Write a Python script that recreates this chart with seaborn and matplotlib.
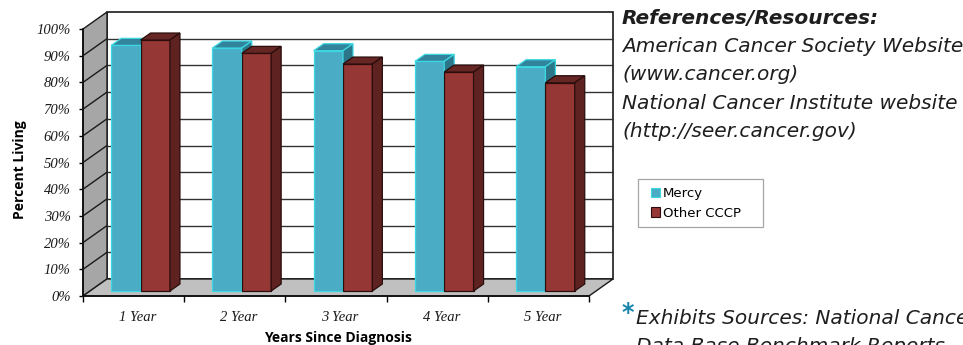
import matplotlib
matplotlib.use("Agg")
import matplotlib.pyplot as plt
import seaborn as sns
import pandas as pd
from matplotlib.colors import to_rgba
from matplotlib.patches import Polygon, Rectangle, Patch
from matplotlib.lines import Line2D

# ---- data -------------------------------------------------------------
years = ["1 Year", "2 Year", "3 Year", "4 Year", "5 Year"]
mercy = [92, 91, 90, 86, 84]
other_cccp = [94, 89, 85, 82, 78]
series = ["Mercy", "Other CCCP"]
y_ticks = list(range(0, 101, 10))
y_tick_labels = [f"{v}%" for v in y_ticks]

df = pd.DataFrame({
    "Years Since Diagnosis": years * 2,
    "Percent Living": mercy + other_cccp,
    "Group": [series[0]] * len(years) + [series[1]] * len(years),
})

# ---- styling ----------------------------------------------------------
sns.set_theme(style="white", rc={
    "text.color": "black", "axes.labelcolor": "black",
    "xtick.color": "black", "ytick.color": "black",
})

front = {"Mercy": "#4BACC6", "Other CCCP": "#953735"}
top = {"Mercy": "#31849B", "Other CCCP": "#652624"}
side = {"Mercy": "#2B7689", "Other CCCP": "#5E2321"}
edge = {"Mercy": "#3CD8E2", "Other CCCP": "#2A0D0C"}
text_col = "#1E1E1E"

W, H = 963, 345
fig = plt.figure(figsize=(W / 100, H / 100), dpi=100)
fig.patch.set_facecolor("white")

# pixel scale of the plot: one category and one percent
ux = 101.2
uy = 2.67


def px(dx, dy):
    return dx / ux, dy / uy


fx, fy = px(-7, -5)    # front plane (labelled axes) relative to the bar plane
bx, by = px(17, 12)    # back wall plane
ddx, ddy = px(10, 7)   # bar depth
x_lo, x_hi = -0.5, len(years) - 0.5

# axes: its lower-left corner is the front corner of the floor
x0_lim, x1_lim = x_lo + fx, x_hi
y0_lim, y1_lim = fy, 100
L, T = 83, 24
AW = (x1_lim - x0_lim) * ux
AH = (y1_lim - y0_lim) * uy
ax = fig.add_axes([L / W, 1 - (T + AH) / H, AW / W, AH / H])
ax.set_facecolor("none")

sns.barplot(data=df, x="Years Since Diagnosis", y="Percent Living",
            hue="Group", palette=front, width=0.58, saturation=1,
            legend=False, ax=ax)
bars = list(ax.patches)

# back wall with gridlines
ax.add_patch(Rectangle((x_lo + bx, by), x_hi - x_lo, 100, facecolor="white",
                       edgecolor="#1A1A1A", lw=1.2, zorder=0.2, clip_on=False))
for v in y_ticks[1:-1]:
    ax.add_line(Line2D([x_lo + bx, x_hi + bx], [v + by, v + by], color="#333333",
                       lw=1.0, zorder=0.3, clip_on=False))

# left side wall with receding gridlines
ax.add_patch(Polygon([(x_lo + fx, fy), (x_lo + fx, 100 + fy),
                      (x_lo + bx, 100 + by), (x_lo + bx, by)],
                     closed=True, facecolor="#A6A6A6", edgecolor="#1A1A1A",
                     lw=1.0, zorder=0.25, clip_on=False))
for v in y_ticks[1:-1]:
    ax.add_line(Line2D([x_lo + fx, x_lo + bx], [v + fy, v + by], color="#1A1A1A",
                       lw=1.0, zorder=0.35, clip_on=False))

# floor
ax.add_patch(Polygon([(x_lo + fx, fy), (x_hi + fx, fy),
                      (x_hi + bx, by), (x_lo + bx, by)],
                     closed=True, facecolor="#C0C0C0", edgecolor="#1A1A1A",
                     lw=1.0, zorder=0.4, clip_on=False))

# bars: front faces come from seaborn, add top and side faces
for p in bars:
    name = "Mercy" if to_rgba(p.get_facecolor()) == to_rgba(front["Mercy"]) else "Other CCCP"
    z = 2 if name == "Mercy" else 3
    x0, w, h = p.get_x(), p.get_width(), p.get_height()
    x1 = x0 + w
    p.set_edgecolor(edge[name])
    p.set_linewidth(0.9)
    p.set_zorder(z)
    ax.add_patch(Polygon([(x0, h), (x1, h), (x1 + ddx, h + ddy), (x0 + ddx, h + ddy)],
                         closed=True, facecolor=top[name], edgecolor=edge[name],
                         lw=0.9, zorder=z, clip_on=False))
    ax.add_patch(Polygon([(x1, 0), (x1 + ddx, ddy), (x1 + ddx, h + ddy), (x1, h)],
                         closed=True, facecolor=side[name], edgecolor=edge[name],
                         lw=0.9, zorder=z, clip_on=False))

# axis lines in the front plane
for s in ("top", "right"):
    ax.spines[s].set_visible(False)
ax.spines["left"].set_bounds(fy, 100 + fy)
ax.spines["bottom"].set_bounds(x_lo + fx, x_hi + fx)
for s in ("left", "bottom"):
    ax.spines[s].set_color("#111111")
    ax.spines[s].set_linewidth(1.3)
    ax.spines[s].set_zorder(1)

ax.set_yticks([v + fy for v in y_ticks], y_tick_labels)
ax.set_xticks([i + 0.4 * fx for i in range(len(years))], years)
ax.set_xticks([i - 0.5 + fx for i in range(len(years) + 1)], minor=True)
ax.set_xlim(x0_lim, x1_lim)
ax.set_ylim(y0_lim, y1_lim)
ax.tick_params(axis="y", which="major", left=True, length=3, width=1,
               direction="out", pad=6, labelsize=10.5)
ax.tick_params(axis="x", which="major", bottom=False, length=0, pad=11, labelsize=10.5)
ax.tick_params(axis="x", which="minor", bottom=True, length=4, width=1, direction="out")
for lbl in ax.get_yticklabels() + ax.get_xticklabels():
    lbl.set_fontfamily("Liberation Serif")
    lbl.set_fontstyle("italic")
    lbl.set_color("#1A1A1A")

ax.set_ylabel("Percent Living", fontfamily="Open Sans", fontweight="bold", fontsize=10)
ax.yaxis.set_label_coords((27 - L) / AW, (T + AH - 170) / AH)
ax.set_xlabel("Years Since Diagnosis", fontfamily="Open Sans", fontweight="bold", fontsize=10)
ax.xaxis.set_label_coords((338 - L) / AW, -(331 - (T + AH)) / AH)


# ---- side panel -------------------------------------------------------
def fx_(x):
    return x / W


def fy_(y):
    return 1 - y / H


panel_font = "DejaVu Sans"
panel_size = 14.5
fig.text(fx_(622), fy_(24), "References/Resources:", fontfamily=panel_font,
         fontweight="bold", fontstyle="italic", fontsize=14.5, color=text_col, va="baseline")
refs = ["American Cancer Society Website", "(www.cancer.org)",
        "National Cancer Institute website", "(http://seer.cancer.gov)"]
for i, line in enumerate(refs):
    fig.text(fx_(622), fy_(52 + 28.4 * i), line, fontfamily=panel_font,
             fontstyle="italic", fontsize=panel_size, color=text_col, va="baseline")

fig.patches.append(Rectangle((fx_(638), fy_(227)), (763 - 638) / W, (227 - 179) / H,
                             transform=fig.transFigure, facecolor="white",
                             edgecolor="#A6A6A6", lw=0.9, zorder=1))
handles = [Patch(facecolor=front[s], edgecolor=edge[s], lw=0.8) for s in series]
fig.legend(handles, series, loc="upper left", bbox_to_anchor=(fx_(651), fy_(187)),
           frameon=False, borderpad=0, borderaxespad=0, handlelength=0.7,
           handleheight=0.7, handletextpad=0.2, labelspacing=0.5,
           prop={"family": panel_font, "size": 9.5})

fig.text(fx_(621), fy_(320), "*", fontfamily="DejaVu Sans", fontweight="bold",
         fontsize=17, color="#1A86AE", va="baseline")
fig.text(fx_(636), fy_(324), "Exhibits Sources: National Cancer", fontfamily=panel_font,
         fontstyle="italic", fontsize=panel_size, color=text_col, va="baseline")
fig.text(fx_(636), fy_(352), "Data Base Benchmark Reports", fontfamily=panel_font,
         fontstyle="italic", fontsize=panel_size, color=text_col, va="baseline")

fig.savefig("out.png", dpi=100)
